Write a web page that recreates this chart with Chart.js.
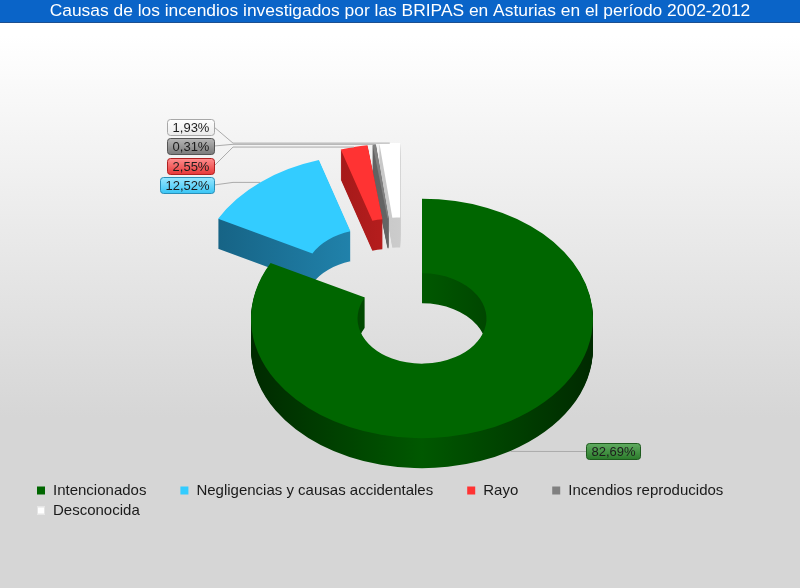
<!DOCTYPE html>
<html lang="es">
<head>
    <meta charset="UTF-8">
    <meta name="viewport" content="width=device-width, initial-scale=1.0">
    <title>Causas de los incendios - BRIPAS Asturias</title>
    <style>
        html, body {
            margin: 0;
            padding: 0;
            background: #ffffff;
        }

        .chart-box {
            width: 800px;
            height: 588px;
            position: relative;
        }
    </style>
</head>
<body>

    <div class="chart-box">
        <canvas id="causasChart"></canvas>
    </div>

    <script src="https://cdn.jsdelivr.net/npm/chart.js"></script>

    <script>
        // Datos del gráfico
        const causas = ['Intencionados', 'Negligencias y causas accidentales', 'Rayo', 'Incendios reproducidos', 'Desconocida'];
        const porcentajes = [82.69, 12.52, 2.55, 0.31, 1.93];
        const titulo = 'Causas de los incendios investigados por las BRIPAS en Asturias en el período 2002-2012';

        // Colores (cara superior, lateral y etiqueta)
        const colorCara = ['#006600', '#33CCFF', '#FF3333', '#808080', '#FFFFFF'];
        const colorLado = ['#005800', '#2286b0', '#b81e1e', '#666666', '#cccccc'];
        const colorLadoOscuro = ['#002a00', '#155f80', '#7a1010', '#444444', '#a8a8a8'];
        const etiquetaArriba = ['#62ad62', '#9be8ff', '#ff9090', '#b8b8b8', '#ffffff'];
        const etiquetaAbajo = ['#2c7c2c', '#3cc6f5', '#e83a3a', '#7c7c7c', '#ebebeb'];
        const etiquetaBorde = ['#1e5a1e', '#2a8fb8', '#b02020', '#555555', '#a8a8a8'];

        // Geometría del "3D"
        const CX = 422, CY = 318.5;   // centro en pantalla
        const INCLINACION = 0.7;      // aplastado vertical
        const PROFUNDIDAD = 30;       // grosor del anillo
        const explosion = [0, 82, 80, 80, 80];
        const deriva = [0, 0, -13, -15, -17];   // corrimiento lateral extra de las porciones separadas
        const FUENTE = "'Liberation Sans', Arial, sans-serif";

        const formato = v => v.toFixed(2).replace('.', ',') + '%';

        // Fondo degradado y barra azul del título
        const fondo = {
            id: 'fondo',
            beforeDraw(chart) {
                const ctx = chart.ctx;
                const w = chart.width, h = chart.height;
                ctx.save();
                const g = ctx.createLinearGradient(0, 0, 0, h);
                g.addColorStop(0, '#ffffff');
                g.addColorStop(0.06, '#ffffff');
                g.addColorStop(0.71, '#d6d6d6');
                g.addColorStop(1, '#d6d6d6');
                ctx.fillStyle = g;
                ctx.fillRect(0, 0, w, h);
                ctx.fillStyle = '#0a64c8';
                ctx.fillRect(0, 0, w, 22);
                ctx.fillStyle = '#1d4f8f';
                ctx.fillRect(0, 22, w, 1);
                ctx.restore();
            }
        };

        // Punto central de cada porción en pantalla (con su separación)
        const desplazamiento = (arc, i) => {
            const mid = (arc.startAngle + arc.endAngle) / 2;
            return [Math.cos(mid) * explosion[i] + deriva[i], Math.sin(mid) * explosion[i] * INCLINACION];
        };

        // Dibuja el anillo aplastado con grosor, cada porción desplazada
        const anillo3D = {
            id: 'anillo3D',
            beforeDatasetsDraw(chart) {
                const ctx = chart.ctx;
                const arcs = chart.getDatasetMeta(0).data;
                if (!arcs.length) return;
                const x0 = arcs[0].x, y0 = arcs[0].y, R = arcs[0].outerRadius;

                const proyectar = (arc, i) => {
                    const d = desplazamiento(arc, i);
                    ctx.translate(CX + d[0], CY + d[1]);
                    ctx.scale(1, INCLINACION);
                    ctx.translate(-x0, -y0);
                };

                const lados = colorLado.map((c, i) => {
                    const g = ctx.createLinearGradient(x0 - R, 0, x0 + R, 0);
                    g.addColorStop(0, colorLadoOscuro[i]);
                    g.addColorStop(0.5, c);
                    g.addColorStop(1, colorLadoOscuro[i]);
                    return g;
                });

                // laterales
                for (let k = PROFUNDIDAD; k >= 1; k--) {
                    arcs.forEach((arc, i) => {
                        const original = arc.options;
                        arc.options = Object.assign({}, original, { backgroundColor: lados[i] });
                        ctx.save();
                        ctx.translate(0, k);
                        proyectar(arc, i);
                        arc.draw(ctx);
                        ctx.restore();
                        arc.options = original;
                    });
                }

                // caras superiores
                arcs.forEach((arc, i) => {
                    ctx.save();
                    proyectar(arc, i);
                    arc.draw(ctx);
                    ctx.restore();
                });
                return false;
            }
        };

        const cajaRedondeada = (ctx, x, y, w, h, r) => {
            ctx.beginPath();
            ctx.moveTo(x + r, y);
            ctx.lineTo(x + w - r, y);
            ctx.arcTo(x + w, y, x + w, y + r, r);
            ctx.lineTo(x + w, y + h - r);
            ctx.arcTo(x + w, y + h, x + w - r, y + h, r);
            ctx.lineTo(x + r, y + h);
            ctx.arcTo(x, y + h, x, y + h - r, r);
            ctx.lineTo(x, y + r);
            ctx.arcTo(x, y, x + r, y, r);
            ctx.closePath();
        };

        // Etiquetas de porcentaje con línea guía
        const etiquetas = {
            id: 'etiquetas',
            afterDraw(chart) {
                const ctx = chart.ctx;
                const arcs = chart.getDatasetMeta(0).data;
                if (!arcs.length) return;
                const alto = 16;
                let pila = 0;

                ctx.save();
                ctx.font = '13px ' + FUENTE;
                ctx.textBaseline = 'middle';

                arcs.forEach((arc, i) => {
                    const mid = (arc.startAngle + arc.endAngle) / 2;
                    const d = desplazamiento(arc, i);
                    const sx = CX + d[0] + Math.cos(mid) * arc.outerRadius;
                    let sy = CY + d[1] + Math.sin(mid) * arc.outerRadius * INCLINACION;
                    if (Math.sin(mid) > 0) sy += PROFUNDIDAD;

                    const texto = formato(porcentajes[i]);
                    const ancho = Math.round(ctx.measureText(texto).width) + 10;
                    let bx, by, puntos;
                    if (sx >= CX) {
                        bx = Math.round(sx + 76);
                        by = Math.round(sy);
                        puntos = [[sx, sy + 0.5], [bx, by + 0.5]];
                    } else {
                        const derecha = 214;
                        by = Math.round(185 - pila * 19.4);
                        pila++;
                        bx = derecha - ancho;
                        puntos = [[sx, sy], [derecha + 19, sy], [derecha, by]];
                    }

                    ctx.strokeStyle = '#ababab';
                    ctx.lineWidth = 1;
                    ctx.beginPath();
                    puntos.forEach((p, j) => j ? ctx.lineTo(p[0], p[1]) : ctx.moveTo(p[0], p[1]));
                    ctx.stroke();

                    const top = by - alto / 2;
                    const g = ctx.createLinearGradient(0, top, 0, top + alto);
                    g.addColorStop(0, etiquetaArriba[i]);
                    g.addColorStop(1, etiquetaAbajo[i]);
                    cajaRedondeada(ctx, bx + 0.5, top + 0.5, ancho, alto, 3);
                    ctx.fillStyle = g;
                    ctx.fill();
                    ctx.strokeStyle = etiquetaBorde[i];
                    ctx.stroke();

                    ctx.fillStyle = '#1c1c1c';
                    ctx.textAlign = 'center';
                    ctx.fillText(texto, bx + ancho / 2 + 0.5, by + 1);
                });
                ctx.restore();
            }
        };

        // Leyenda en línea, alineada a la izquierda
        const leyenda = {
            id: 'leyenda',
            afterDraw(chart) {
                const ctx = chart.ctx;
                const izquierda = 37, limite = chart.width - 30;
                let x = izquierda, y = 490.5;
                ctx.save();
                ctx.font = '15px ' + FUENTE;
                ctx.textBaseline = 'middle';
                ctx.textAlign = 'left';
                chart.data.labels.forEach((nombre, i) => {
                    const ancho = 16 + ctx.measureText(nombre).width;
                    if (x > izquierda && x + ancho > limite) {
                        x = izquierda;
                        y += 20;
                    }
                    ctx.fillStyle = chart.data.datasets[0].backgroundColor[i];
                    ctx.fillRect(x, y - 4, 8, 8);
                    if (i === 4) {
                        ctx.strokeStyle = '#e4e4e4';
                        ctx.strokeRect(x + 0.5, y - 3.5, 7, 7);
                    }
                    ctx.fillStyle = '#1a1a1a';
                    ctx.fillText(nombre, x + 16, y);
                    x += ancho + 34;
                });
                ctx.restore();
            }
        };

        const causasCtx = document.getElementById('causasChart');
        const causasChart = new Chart(causasCtx, {
            type: 'doughnut',
            data: {
                labels: causas,
                datasets: [{
                    label: 'Causas',
                    data: porcentajes,
                    backgroundColor: colorCara,
                    borderWidth: 0
                }]
            },
            options: {
                responsive: true,
                maintainAspectRatio: false,
                animation: false,
                events: [],
                radius: 171,
                cutout: '37.7%',
                plugins: {
                    legend: { display: false },
                    tooltip: { enabled: false },
                    title: {
                        display: true,
                        text: titulo,
                        color: '#ffffff',
                        font: { family: FUENTE, size: 17.4, weight: 'normal' },
                        padding: { top: 0.5, bottom: 4 }
                    }
                }
            },
            plugins: [fondo, anillo3D, etiquetas, leyenda]
        });
    </script>

</body>
</html>
